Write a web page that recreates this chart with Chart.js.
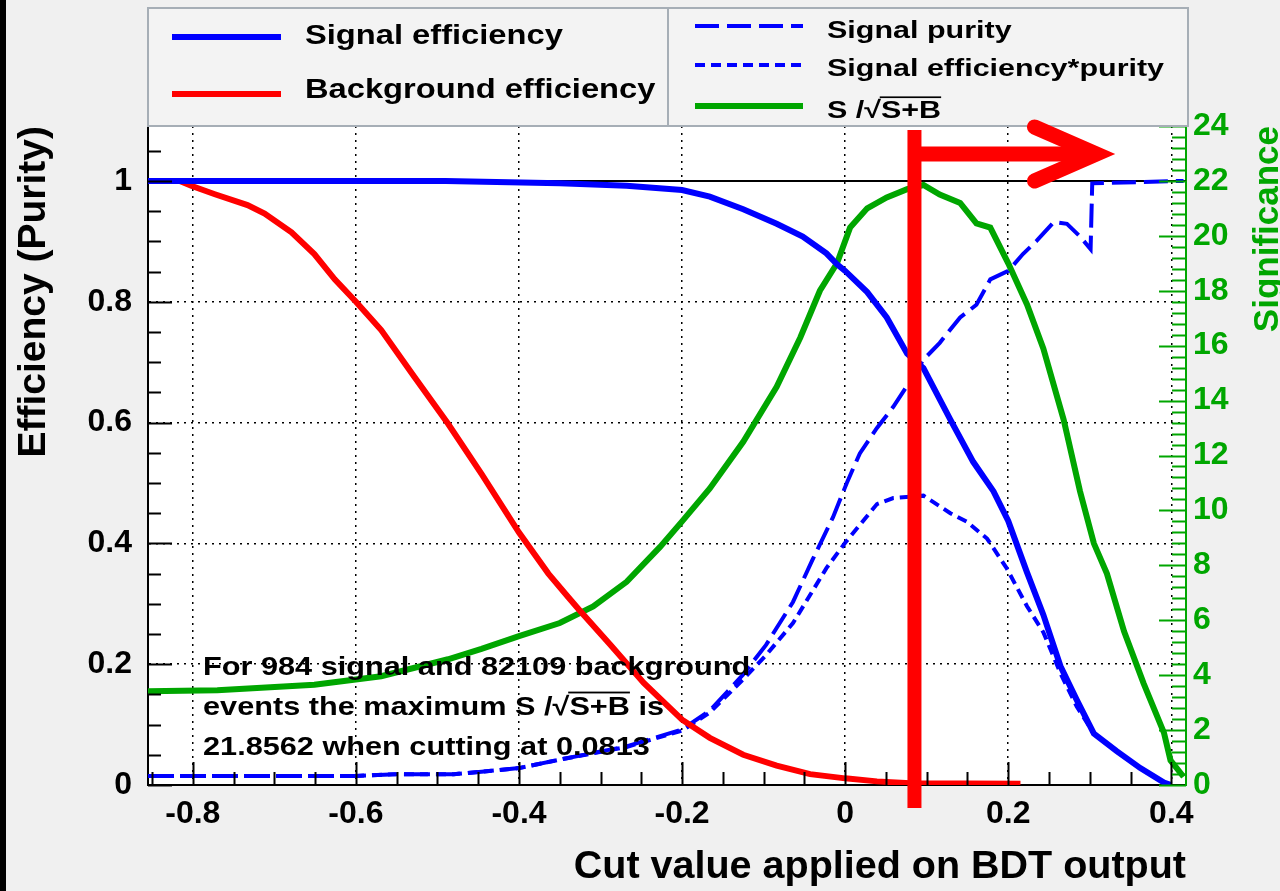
<!DOCTYPE html>
<html>
<head>
<meta charset="utf-8">
<script src="https://cdn.jsdelivr.net/npm/chart.js@4.4.1/dist/chart.umd.min.js"></script>
<style>
  html, body { margin: 0; padding: 0; background: #f0f0f0; }
  canvas { display: block; }
</style>
</head>
<body>
<canvas id="grafico" width="1280" height="891"></canvas>
<script>
// numbers quoted in the plot
const nSignal = 984;
const nBackground = 82109;
const maxSignificance = 21.8562;
const bestCut = 0.0813;

// background efficiency (red)
const bgCut = [-0.855, -0.816, -0.802, -0.773, -0.733, -0.712, -0.679, -0.651, -0.626, -0.600, -0.569, -0.528, -0.487, -0.446, -0.400, -0.364, -0.339, -0.325, -0.288, -0.247, -0.200, -0.166, -0.125, -0.084, -0.043, 0.000, 0.039, 0.080, 0.215];
const bgEff = [1.000, 1.000, 0.992, 0.978, 0.960, 0.946, 0.915, 0.879, 0.837, 0.800, 0.753, 0.675, 0.598, 0.515, 0.418, 0.350, 0.310, 0.288, 0.232, 0.169, 0.108, 0.078, 0.050, 0.032, 0.018, 0.011, 0.006, 0.003, 0.002];

// signal efficiency (blue solid)
const sigEffCut = [-0.855, -0.490, -0.350, -0.268, -0.200, -0.166, -0.125, -0.084, -0.052, -0.023, -0.010, 0.000, 0.027, 0.051, 0.076, 0.096, 0.129, 0.157, 0.182, 0.200, 0.223, 0.243, 0.264, 0.284, 0.305, 0.333, 0.362, 0.391, 0.400];
const sigEff = [1.000, 1.000, 0.996, 0.992, 0.985, 0.974, 0.953, 0.929, 0.908, 0.880, 0.862, 0.851, 0.816, 0.774, 0.714, 0.690, 0.605, 0.535, 0.486, 0.437, 0.352, 0.282, 0.197, 0.141, 0.085, 0.056, 0.028, 0.004, 0.000];

// signal purity (blue long dash)
const purCut = [-0.855, -0.600, -0.550, -0.480, -0.446, -0.400, -0.350, -0.268, -0.200, -0.166, -0.125, -0.097, -0.064, -0.040, -0.015, 0.002, 0.018, 0.039, 0.059, 0.076, 0.096, 0.116, 0.141, 0.161, 0.178, 0.200, 0.218, 0.235, 0.256, 0.272, 0.288, 0.301, 0.303, 0.415];
const purity = [0.015, 0.015, 0.018, 0.018, 0.022, 0.028, 0.042, 0.064, 0.092, 0.123, 0.183, 0.232, 0.303, 0.373, 0.443, 0.500, 0.549, 0.591, 0.626, 0.661, 0.704, 0.732, 0.774, 0.795, 0.837, 0.851, 0.879, 0.901, 0.932, 0.929, 0.908, 0.887, 0.996, 1.000];

// signal efficiency * purity (blue short dash)
const effPurCut = [-0.855, -0.600, -0.550, -0.480, -0.446, -0.400, -0.350, -0.268, -0.200, -0.166, -0.125, -0.097, -0.064, -0.023, 0.000, 0.039, 0.059, 0.096, 0.129, 0.149, 0.174, 0.198, 0.223, 0.243, 0.264, 0.284, 0.305, 0.333, 0.362, 0.391, 0.400];
const effPur = [0.015, 0.015, 0.018, 0.018, 0.022, 0.028, 0.042, 0.063, 0.090, 0.120, 0.175, 0.215, 0.268, 0.359, 0.401, 0.465, 0.475, 0.479, 0.450, 0.436, 0.408, 0.359, 0.296, 0.253, 0.185, 0.130, 0.085, 0.056, 0.028, 0.004, 0.000];

// S/sqrt(S+B) (green, right axis)
const signifCut = [-0.855, -0.770, -0.651, -0.569, -0.487, -0.446, -0.400, -0.350, -0.309, -0.268, -0.227, -0.200, -0.166, -0.125, -0.084, -0.055, -0.031, -0.010, 0.006, 0.027, 0.051, 0.076, 0.096, 0.116, 0.141, 0.161, 0.178, 0.200, 0.223, 0.243, 0.268, 0.288, 0.305, 0.321, 0.342, 0.366, 0.391, 0.399, 0.415];
const signif = [3.41, 3.45, 3.65, 3.96, 4.58, 4.96, 5.42, 5.90, 6.50, 7.40, 8.67, 9.60, 10.8, 12.5, 14.5, 16.3, 18.0, 19.0, 20.3, 21.0, 21.4, 21.7, 21.85, 21.5, 21.2, 20.45, 20.3, 19.0, 17.5, 15.9, 13.3, 10.7, 8.8, 7.7, 5.6, 3.7, 1.9, 0.9, 0.3];

const xTicks = [-0.8, -0.6, -0.4, -0.2, 0, 0.2, 0.4];
const effTicks = [0, 0.2, 0.4, 0.6, 0.8, 1];
const signifTicks = [0, 2, 4, 6, 8, 10, 12, 14, 16, 18, 20, 22, 24];

const FAMILY = "'Liberation Sans', Arial, Helvetica, sans-serif";
const VERDE = '#00a600';
const AZUL = '#0000ff';
const ROJO = '#ff0000';

Chart.defaults.font.family = FAMILY;

function puntos(xs, ys) {
  return xs.map((x, i) => ({ x: x, y: ys[i] }));
}

function formato(v) {
  return String(Math.round(v * 10) / 10);
}

// text with a horizontal stretch, and an overline over the radicand after a √
function textoAncho(ctx, texto, x, y, size, sx, color) {
  ctx.save();
  ctx.translate(x, y);
  ctx.scale(sx, 1);
  ctx.font = 'bold ' + size + 'px ' + FAMILY;
  ctx.fillStyle = color;
  ctx.textAlign = 'left';
  ctx.textBaseline = 'alphabetic';
  ctx.fillText(texto, 0, 0);
  const r = texto.indexOf('√');
  if (r >= 0) {
    const cola = texto.slice(r + 1);
    const sp = cola.indexOf(' ');
    const rad = sp < 0 ? cola : cola.slice(0, sp);
    const x0 = ctx.measureText(texto.slice(0, r + 1)).width;
    const x1 = ctx.measureText(texto.slice(0, r + 1) + rad).width;
    ctx.fillRect(x0 - 1, -size * 0.9, x1 - x0 + 1, Math.max(1.5, size * 0.07));
  }
  ctx.restore();
}

const fondo = {
  id: 'fondo',
  beforeDraw(chart) {
    const { ctx, chartArea: a } = chart;
    ctx.save();
    ctx.fillStyle = '#f0f0f0';
    ctx.fillRect(0, 0, chart.width, chart.height);
    ctx.fillStyle = '#000';
    ctx.fillRect(0, 0, 6, chart.height);
    ctx.fillStyle = '#ffffff';
    ctx.fillRect(a.left, a.top, a.right - a.left, a.bottom - a.top);
    ctx.restore();
  },
  beforeDatasetsDraw(chart) {
    // reference line at efficiency 1
    const { ctx, chartArea: a } = chart;
    const y = chart.scales.y.getPixelForValue(1);
    ctx.save();
    ctx.strokeStyle = '#000';
    ctx.lineWidth = 2;
    ctx.beginPath();
    ctx.moveTo(a.left, y);
    ctx.lineTo(a.right, y);
    ctx.stroke();
    ctx.restore();
  }
};

const marcas = {
  id: 'marcas',
  afterDatasetsDraw(chart) {
    const { ctx, chartArea: a, scales } = chart;
    ctx.save();
    ctx.lineWidth = 2;

    // inward ticks, left axis
    ctx.strokeStyle = '#000';
    ctx.beginPath();
    for (let i = 0; i <= 21; i++) {
      const y = Math.round(scales.y.getPixelForValue(i * 0.05)) + 0.5;
      const len = i % 4 === 0 ? 24 : 13;
      ctx.moveTo(a.left, y);
      ctx.lineTo(a.left + len, y);
    }
    // bottom axis
    for (let i = -17; i <= 8; i++) {
      const x = Math.round(scales.x.getPixelForValue(i * 0.05)) + 0.5;
      const len = i % 4 === 0 ? 23 : 13;
      ctx.moveTo(x, a.bottom);
      ctx.lineTo(x, a.bottom - len);
    }
    ctx.stroke();

    // right (significance) axis
    ctx.strokeStyle = VERDE;
    ctx.beginPath();
    for (let i = 0; i <= 60; i++) {
      const y = Math.round(scales.y2.getPixelForValue(i * 0.4)) + 0.5;
      const len = i % 5 === 0 ? 27 : 14;
      ctx.moveTo(a.right, y);
      ctx.lineTo(a.right - len, y);
    }
    ctx.stroke();
    ctx.restore();
  }
};

const notas = {
  id: 'notas',
  afterDraw(chart) {
    const { ctx, chartArea: a, scales } = chart;
    const ds = chart.data.datasets;

    // legend box, two columns
    ctx.save();
    ctx.fillStyle = '#f3f3f3';
    ctx.fillRect(a.left, 8, a.right + 2 - a.left, a.top - 8);
    ctx.strokeStyle = '#a6aeb6';
    ctx.lineWidth = 2;
    ctx.strokeRect(a.left, 8, a.right + 2 - a.left, a.top - 8);
    ctx.beginPath();
    ctx.moveTo(668, 8);
    ctx.lineTo(668, a.top);
    ctx.stroke();

    const filas = [
      { i: 0, x0: 172, x1: 281, yl: 37, xt: 305, yt: 44, size: 27, sx: 1.21 },
      { i: 1, x0: 172, x1: 281, yl: 94, xt: 305, yt: 98, size: 27, sx: 1.21 },
      { i: 2, x0: 695, x1: 803, yl: 26, xt: 827, yt: 38, size: 24, sx: 1.27 },
      { i: 3, x0: 695, x1: 803, yl: 65, xt: 827, yt: 76, size: 24, sx: 1.27 },
      { i: 4, x0: 695, x1: 803, yl: 106, xt: 827, yt: 118, size: 24, sx: 1.27 }
    ];
    filas.forEach(f => {
      const d = ds[f.i];
      ctx.save();
      ctx.strokeStyle = d.borderColor;
      ctx.lineWidth = d.borderWidth;
      ctx.setLineDash(d.borderDash || []);
      ctx.beginPath();
      ctx.moveTo(f.x0, f.yl);
      ctx.lineTo(f.x1, f.yl);
      ctx.stroke();
      ctx.restore();
      textoAncho(ctx, d.label, f.xt, f.yt, f.size, f.sx, '#000');
    });

    // right axis title, read bottom to top
    ctx.save();
    ctx.translate(1268, a.top);
    ctx.rotate(-Math.PI / 2);
    ctx.font = 'bold 35px ' + FAMILY;
    ctx.fillStyle = VERDE;
    ctx.textAlign = 'right';
    ctx.textBaseline = 'middle';
    ctx.fillText('Significance', 0, 0);
    ctx.restore();

    // summary text
    const lineas = [
      'For ' + nSignal + ' signal and ' + nBackground + ' background',
      'events the maximum S /√S+B is',
      maxSignificance + ' when cutting at ' + bestCut
    ];
    lineas.forEach((t, k) => {
      textoAncho(ctx, t, a.left + 55, a.bottom - 110 + k * 40, 26, 1.18, '#000');
    });

    // best cut marker with arrow
    const xb = scales.x.getPixelForValue(bestCut) + 3;
    ctx.fillStyle = ROJO;
    ctx.fillRect(xb - 7, a.top + 4, 14, a.bottom + 23 - a.top - 4);
    const ya = a.top + 28;
    const tip = xb + 182;
    ctx.strokeStyle = ROJO;
    ctx.lineWidth = 15;
    ctx.lineCap = 'butt';
    ctx.beginPath();
    ctx.moveTo(xb, ya);
    ctx.lineTo(tip - 6, ya);
    ctx.stroke();
    ctx.lineCap = 'round';
    ctx.lineJoin = 'miter';
    ctx.beginPath();
    ctx.moveTo(tip - 62, ya - 27);
    ctx.lineTo(tip, ya);
    ctx.lineTo(tip - 62, ya + 27);
    ctx.stroke();
    ctx.restore();
  }
};

new Chart(document.getElementById('grafico'), {
  type: 'line',
  data: {
    datasets: [
      { label: 'Signal efficiency', data: puntos(sigEffCut, sigEff), borderColor: AZUL, borderWidth: 6, yAxisID: 'y' },
      { label: 'Background efficiency', data: puntos(bgCut, bgEff), borderColor: ROJO, borderWidth: 6, yAxisID: 'y' },
      { label: 'Signal purity', data: puntos(purCut, purity), borderColor: AZUL, borderWidth: 4, borderDash: [24, 8], yAxisID: 'y' },
      { label: 'Signal efficiency*purity', data: puntos(effPurCut, effPur), borderColor: AZUL, borderWidth: 4, borderDash: [10, 6], yAxisID: 'y' },
      { label: 'S /√S+B', data: puntos(signifCut, signif), borderColor: VERDE, borderWidth: 6, yAxisID: 'y2' }
    ]
  },
  options: {
    responsive: false,
    animation: false,
    devicePixelRatio: 1,
    layout: { padding: { top: 126, left: 0, right: 0, bottom: 0 } },
    elements: { point: { radius: 0 }, line: { tension: 0, fill: false } },
    plugins: { legend: { display: false }, tooltip: { enabled: false }, title: { display: false } },
    scales: {
      x: {
        type: 'linear',
        position: 'bottom',
        min: -0.855,
        max: 0.418,
        afterBuildTicks: s => { s.ticks = xTicks.map(v => ({ value: v })); },
        afterFit: s => { s.height = 106; },
        ticks: { color: '#000', font: { size: 32, weight: 'bold' }, padding: 10, autoSkip: false, maxRotation: 0, callback: v => formato(v) },
        grid: { color: '#000', lineWidth: 1.5, drawTicks: false },
        border: { color: '#000', width: 2, dash: [2, 5] },
        title: { display: true, text: 'Cut value applied on BDT output', align: 'end', color: '#000', font: { size: 39.5, weight: 'bold' }, padding: { top: 0, bottom: 0 } }
      },
      y: {
        type: 'linear',
        position: 'left',
        min: 0,
        max: 24 / 22,
        afterBuildTicks: s => { s.ticks = effTicks.map(v => ({ value: v })); },
        afterFit: s => { s.width = 148; },
        ticks: { color: '#000', font: { size: 32, weight: 'bold' }, padding: 16, autoSkip: false, callback: v => formato(v) },
        grid: { color: '#000', lineWidth: 1.5, drawTicks: false },
        border: { color: '#000', width: 2, dash: [2, 5] },
        title: { display: true, text: 'Efficiency (Purity)', align: 'end', color: '#000', font: { size: 39, weight: 'bold' }, padding: { top: 11, bottom: 0 } }
      },
      y2: {
        type: 'linear',
        position: 'right',
        min: 0,
        max: 24,
        afterBuildTicks: s => { s.ticks = signifTicks.map(v => ({ value: v })); },
        afterFit: s => { s.width = 94; },
        ticks: { color: VERDE, font: { size: 32, weight: 'bold' }, padding: 7, autoSkip: false, callback: v => String(v) },
        grid: { drawOnChartArea: false, drawTicks: false },
        border: { color: VERDE, width: 2 }
      }
    }
  },
  plugins: [fondo, marcas, notas]
});
</script>
</body>
</html>
